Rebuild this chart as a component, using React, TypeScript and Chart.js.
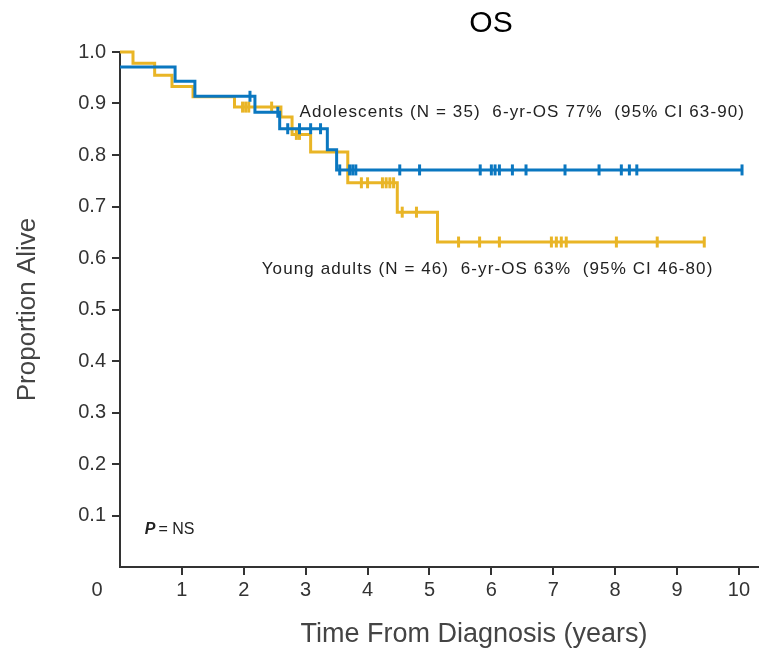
import React, { useEffect, useRef } from "react";
import { Chart, registerables } from "chart.js";

Chart.register(...registerables);

// Adolescents (N = 35): KM step times and survival after each step
const adolTimes = [0, 0.89, 1.21, 2.18, 2.58, 3.35, 3.5];
const adolSurv = [0.971, 0.943, 0.914, 0.883, 0.851, 0.81, 0.771];
const adolEnd = 10.05;
const adolCensor = [2.1, 2.55, 2.71, 2.9, 3.08, 3.24, 3.55, 3.71, 3.76, 3.81, 4.52, 4.84, 5.82, 6.0, 6.06, 6.13, 6.34, 6.56, 7.19, 7.74, 8.1, 8.23, 8.35, 10.05];

// Young adults (N = 46)
const yaTimes = [0, 0.21, 0.56, 0.84, 1.18, 1.85, 2.6, 2.78, 3.08, 3.68, 4.48, 5.13];
const yaSurv = [1.0, 0.978, 0.955, 0.933, 0.913, 0.893, 0.874, 0.84, 0.806, 0.746, 0.689, 0.631];
const yaEnd = 9.44;
const yaCensor = [1.98, 2.03, 2.08, 2.45, 2.85, 2.9, 3.9, 4.0, 4.24, 4.3, 4.36, 4.42, 4.56, 4.79, 5.47, 5.81, 6.13, 6.97, 7.05, 7.13, 7.21, 8.02, 8.68, 9.44];

const xTickValues = [1, 2, 3, 4, 5, 6, 7, 8, 9, 10];
const yTickValues = [0.1, 0.2, 0.3, 0.4, 0.5, 0.6, 0.7, 0.8, 0.9, 1.0];

const chartTitle = "OS";
const xTitle = "Time From Diagnosis (years)";
const yTitle = "Proportion Alive";
const adolLabel = "Adolescents (N = 35)  6-yr-OS 77%  (95% CI 63-90)";
const yaLabel = "Young adults (N = 46)  6-yr-OS 63%  (95% CI 46-80)";

const BLUE = "#0a77c0";
const GOLD = "#e9b526";
const INK = "#333333";
const FONT = "'Liberation Sans', Arial, sans-serif";

function stepPoints(times: number[], surv: number[], end: number) {
  const pts = times.map((t, i) => ({ x: t, y: surv[i] }));
  pts.push({ x: end, y: surv[surv.length - 1] });
  return pts;
}

function levelAt(times: number[], surv: number[], t: number) {
  let v = surv[0];
  for (let i = 0; i < times.length; i++) if (times[i] <= t) v = surv[i];
  return v;
}

const textPlugin = {
  id: "kmTexts",
  afterDraw(chart: any) {
    const ctx = chart.ctx as CanvasRenderingContext2D;
    const xs = chart.scales.x;
    const ys = chart.scales.y;
    ctx.save();
    ctx.fillStyle = "#000";
    ctx.font = `30px ${FONT}`;
    ctx.textAlign = "center";
    ctx.textBaseline = "middle";
    ctx.fillText(chartTitle, 491, 24);

    ctx.fillStyle = "#444";
    ctx.font = `27px ${FONT}`;
    ctx.fillText(xTitle, 474, 635);

    ctx.fillStyle = INK;
    ctx.font = `20px ${FONT}`;
    ctx.fillText("0", 97, 590);

    ctx.textAlign = "left";
    ctx.fillStyle = "#222";
    ctx.font = `17px ${FONT}`;
    (ctx as any).letterSpacing = "1.1px";
    ctx.fillText(adolLabel, xs.getPixelForValue(2.9), ys.getPixelForValue(0.883));
    ctx.fillText(yaLabel, xs.getPixelForValue(2.29), ys.getPixelForValue(0.579));

    (ctx as any).letterSpacing = "0px";
    const px = xs.getPixelForValue(0.4);
    const py = ys.getPixelForValue(0.072);
    ctx.font = `italic bold 16px ${FONT}`;
    ctx.fillText("P", px, py);
    const pw = ctx.measureText("P").width;
    ctx.font = `16px ${FONT}`;
    ctx.fillText("= NS", px + pw + 3, py);
    ctx.restore();
  },
};

export default function App() {
  const ref = useRef<HTMLCanvasElement | null>(null);
  useEffect(() => {
    if (!ref.current) return;
    const chart = new Chart(ref.current, {
      type: "line",
      data: {
        datasets: [
          {
            label: "Adolescents",
            data: stepPoints(adolTimes, adolSurv, adolEnd),
            borderColor: BLUE,
            borderWidth: 3,
            stepped: "before",
            pointRadius: 0,
            clip: false,
          } as any,
          {
            type: "scatter",
            label: "Adolescents censored",
            data: adolCensor.map((t) => ({ x: t, y: levelAt(adolTimes, adolSurv, t) })),
            pointStyle: "line",
            rotation: 90,
            pointRadius: 5.5,
            borderColor: BLUE,
            borderWidth: 3,
            showLine: false,
            clip: false,
          } as any,
          {
            label: "Young adults",
            data: stepPoints(yaTimes, yaSurv, yaEnd),
            borderColor: GOLD,
            borderWidth: 3,
            stepped: "before",
            pointRadius: 0,
            clip: false,
          } as any,
          {
            type: "scatter",
            label: "Young adults censored",
            data: yaCensor.map((t) => ({ x: t, y: levelAt(yaTimes, yaSurv, t) })),
            pointStyle: "line",
            rotation: 90,
            pointRadius: 5.5,
            borderColor: GOLD,
            borderWidth: 3,
            showLine: false,
            clip: false,
          } as any,
        ],
      },
      options: {
        animation: false,
        responsive: false,
        maintainAspectRatio: false,
        layout: { padding: { top: 52, right: 6, left: 0, bottom: 0 } },
        plugins: { legend: { display: false }, tooltip: { enabled: false }, title: { display: false } },
        scales: {
          x: {
            type: "linear",
            min: 0,
            max: 10.3,
            afterBuildTicks: (s: any) => {
              s.ticks = xTickValues.map((v) => ({ value: v }));
            },
            afterFit: (s: any) => {
              s.height = 87;
            },
            ticks: {
              color: INK,
              font: { family: FONT, size: 20 },
              padding: 3,
              maxRotation: 0,
              autoSkip: false,
              callback: (v: any) => String(v),
            },
            grid: { drawOnChartArea: false, drawTicks: true, tickLength: 8, color: INK, lineWidth: 2 },
            border: { display: true, color: INK, width: 2 },
          },
          y: {
            type: "linear",
            min: 0,
            max: 1.0,
            afterBuildTicks: (s: any) => {
              s.ticks = yTickValues.map((v) => ({ value: v }));
            },
            afterFit: (s: any) => {
              s.width = 120;
            },
            ticks: {
              color: INK,
              font: { family: FONT, size: 20 },
              padding: 6,
              autoSkip: false,
              callback: (v: any) => Number(v).toFixed(1),
            },
            grid: { drawOnChartArea: false, drawTicks: true, tickLength: 8, color: INK, lineWidth: 2 },
            border: { display: true, color: INK, width: 2 },
            title: {
              display: true,
              text: yTitle,
              color: "#444",
              font: { family: FONT, size: 26 },
              padding: { top: 12, bottom: 0 },
            },
          },
        },
      },
      plugins: [textPlugin],
    });
    return () => chart.destroy();
  }, []);
  return (
    <div style={{ position: "absolute", left: 0, top: 0, width: 766, height: 654, background: "#fff" }}>
      <canvas ref={ref} width={766} height={654} style={{ width: 766, height: 654, display: "block" }} />
    </div>
  );
}
